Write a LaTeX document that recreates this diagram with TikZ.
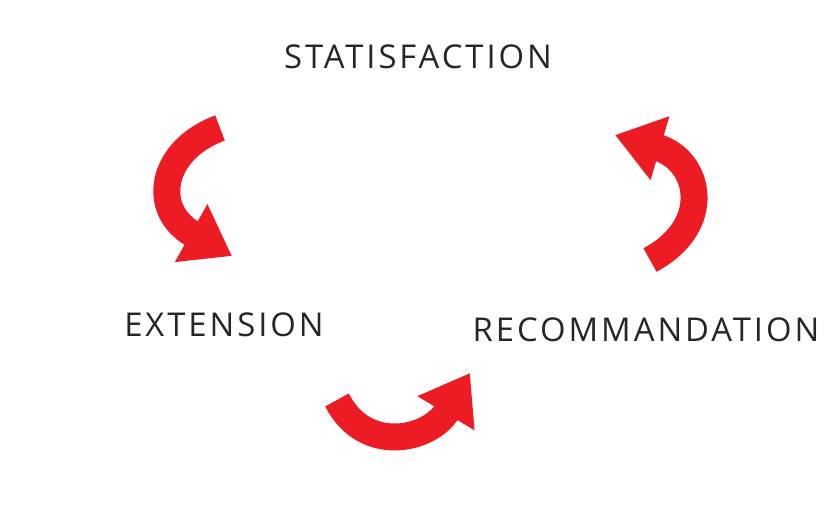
\documentclass[tikz,border=0pt]{standalone}
\usepackage{fontspec}
\setmainfont[LetterSpace=9]{Open Sans}
\usetikzlibrary{arrows.meta}
\definecolor{cyclered}{HTML}{ED1C24}
\tikzset{
  cyclelabel/.style={font=\fontsize{28}{32}\selectfont, text=black!85},
  cyclearrow/.style={draw=cyclered, line width=23pt,
    -{Triangle[length=40pt,width=54pt]}}
}
\begin{document}
\begin{tikzpicture}[x=0.03cm,y=-0.03cm]
    \useasboundingbox (0,0) rectangle (836,516);
    % Labels
    \node[cyclelabel] (sat) at (418,57) {STATISFACTION};
    \node[cyclelabel] (ext) at (224,325) {EXTENSION};
    \node[cyclelabel] (rec) at (646,330) {RECOMMANDATION};

    % Arrows
    \coordinate (l1) at (220,128);
    \coordinate (l2) at (232,256);
    \draw[cyclearrow] (l1) .. controls (160,150) and (150,210) .. (l2);

    \coordinate (r1) at (650,260);
    \coordinate (r2) at (615,135);
    \draw[cyclearrow] (r1) .. controls (715,225) and (700,160) .. (r2);

    \coordinate (b1) at (337,400);
    \coordinate (b2) at (470,373);
    \draw[cyclearrow] (b1) .. controls (365,455) and (430,440) .. (b2);
\end{tikzpicture}
\end{document}
